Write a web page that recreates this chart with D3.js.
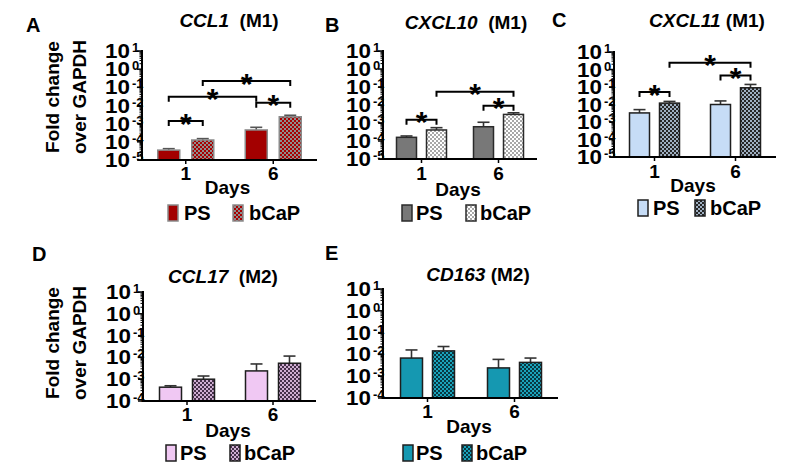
<!DOCTYPE html>
<html><head><meta charset="utf-8">
<script src="https://cdn.jsdelivr.net/npm/d3@7"></script>
<style>
body{margin:0;background:#fff}
text{font-family:"Liberation Sans",Arial,Helvetica,sans-serif;font-weight:bold;fill:#000}
</style>
</head><body>
<svg id="chart" width="800" height="474"></svg>
<script>
// ---------------- DATA ----------------
const days = ["1", "6"];
const groups = ["PS", "bCaP"];
const ticksM1 = [1e-5, 1e-4, 1e-3, 1e-2, 1e-1, 1, 10];
const tickExpM1 = ["-5", "-4", "-3", "-2", "-1", "0", "1"];
const ticksM2 = [1e-4, 1e-3, 1e-2, 1e-1, 1, 10];
const tickExpM2 = ["-4", "-3", "-2", "-1", "0", "1"];
const yTitle = ["Fold change", "over GAPDH"];
const xTitle = "Days";

// mean values per day (day 1, day 6) and upper end of error bar
const ccl1PS = [3.5e-5, 4.5e-4];      const ccl1PSErr = [4.2e-5, 6.3e-4];
const ccl1BCaP = [1.26e-4, 2.4e-3];   const ccl1BCaPErr = [1.5e-4, 2.9e-3];
const cxcl10PS = [1.6e-4, 6.2e-4];    const cxcl10PSErr = [1.9e-4, 1.1e-3];
const cxcl10BCaP = [4.1e-4, 3.0e-3];  const cxcl10BCaPErr = [5.5e-4, 3.7e-3];
const cxcl11PS = [3.3e-3, 1.0e-2];    const cxcl11PSErr = [5.1e-3, 1.6e-2];
const cxcl11BCaP = [1.2e-2, 0.09];    const cxcl11BCaPErr = [1.5e-2, 0.14];
const ccl17PS = [4.3e-4, 2.4e-3];     const ccl17PSErr = [5.0e-4, 5.0e-3];
const ccl17BCaP = [1.0e-3, 5.4e-3];   const ccl17BCaPErr = [1.4e-3, 1.15e-2];
const cd163PS = [6.8e-3, 2.4e-3];     const cd163PSErr = [1.6e-2, 5.9e-3];
const cd163BCaP = [1.45e-2, 4.3e-3];  const cd163BCaPErr = [2.3e-2, 6.8e-3];

// significance brackets: [day, group, day, group, bracket level]
const ccl1Sig = [["1","PS","1","bCaP",1.4e-3], ["1","PS","6","PS",3.0e-2], ["1","bCaP","6","bCaP",0.22], ["6","PS","6","bCaP",1.4e-2]];
const cxcl10Sig = [["1","PS","1","bCaP",1.5e-3], ["1","bCaP","6","bCaP",5.5e-2], ["6","PS","6","bCaP",9.1e-3]];
const cxcl11Sig = [["1","PS","1","bCaP",5.1e-2], ["1","bCaP","6","bCaP",2.4], ["6","PS","6","bCaP",0.46]];

const panels = [
  {letter:"A", gene:"CCL1", tag:"\u00a0\u00a0(M1)", ps:ccl1PS, psErr:ccl1PSErr, bc:ccl1BCaP, bcErr:ccl1BCaPErr, sig:ccl1Sig, ticks:ticksM1, exp:tickExpM1, yTitle:true},
  {letter:"B", gene:"CXCL10", tag:"\u00a0\u00a0(M1)", ps:cxcl10PS, psErr:cxcl10PSErr, bc:cxcl10BCaP, bcErr:cxcl10BCaPErr, sig:cxcl10Sig, ticks:ticksM1, exp:tickExpM1},
  {letter:"C", gene:"CXCL11", tag:"\u00a0(M1)", ps:cxcl11PS, psErr:cxcl11PSErr, bc:cxcl11BCaP, bcErr:cxcl11BCaPErr, sig:cxcl11Sig, ticks:ticksM1, exp:tickExpM1},
  {letter:"D", gene:"CCL17", tag:"\u00a0\u00a0(M2)", ps:ccl17PS, psErr:ccl17PSErr, bc:ccl17BCaP, bcErr:ccl17BCaPErr, sig:[], ticks:ticksM2, exp:tickExpM2, yTitle:true},
  {letter:"E", gene:"CD163", tag:"\u00a0(M2)", ps:cd163PS, psErr:cd163PSErr, bc:cd163BCaP, bcErr:cd163BCaPErr, sig:[], ticks:ticksM2, exp:tickExpM2}
];

// ---------------- STYLE / LAYOUT ----------------
const styles = {
  A:{ps:"#a30000", c1:"#a80000", c2:"#8e8e8e", stroke:"#8a8a8a", err:"#555"},
  B:{ps:"#787878", c1:"#ffffff", c2:"#a8a8a8", stroke:"#2a2a2a", err:"#333"},
  C:{ps:"#c6dcf6", c1:"#9fb0c2", c2:"#262626", stroke:"#1e1e1e", err:"#333"},
  D:{ps:"#f0c8f3", c1:"#cfaed2", c2:"#45304a", stroke:"#1e1e1e", err:"#333"},
  E:{ps:"#1598b1", c1:"#1aa3bb", c2:"#083842", stroke:"#1e1e1e", err:"#333"}
};
const layouts = {
  A:{ax:142, xr:[142,317], yr:[160,51], inner:34, bw:22, letterXY:[26,32], titleXY:[229,27], tickY:180, daysY:194, legY:220, leg:[168,184,233,249], yLabY:97},
  B:{ax:383, xr:[383,537], yr:[159,51], inner:30, bw:20, letterXY:[325,32], titleXY:[466,29], tickY:180, daysY:196, legY:220, leg:[402,416,466,480]},
  C:{ax:614, xr:[614,776], yr:[157,52], inner:30, bw:20, letterXY:[552,27], titleXY:[707,27], tickY:178, daysY:192, legY:215, leg:[638,653,695,710]},
  D:{ax:143, xr:[144,316], yr:[401,292], inner:33, bw:22, letterXY:[32,261], titleXY:[223,283], tickY:421, daysY:437, legY:460, leg:[166,180,230,244], yLabY:343},
  E:{ax:383, xr:[384,558], yr:[398,289], inner:32, bw:22, letterXY:[325,260], titleXY:[478,281], tickY:418, daysY:433, legY:460, leg:[403,416,462,476]}
};

const svg = d3.select("#chart");
const defs = svg.append("defs");

function drawPanel(P) {
  const L = layouts[P.letter], S = styles[P.letter];
  const g = svg.append("g");

  // checker pattern for bCaP
  const pid = "pat" + P.letter;
  const pat = defs.append("pattern").attr("id", pid).attr("patternUnits", "userSpaceOnUse")
    .attr("width", 4).attr("height", 4);
  pat.append("rect").attr("width", 4).attr("height", 4).attr("fill", S.c1);
  pat.append("rect").attr("width", 2).attr("height", 2).attr("fill", S.c2);
  pat.append("rect").attr("x", 2).attr("y", 2).attr("width", 2).attr("height", 2).attr("fill", S.c2);
  const fillOf = k => k === "PS" ? S.ps : `url(#${pid})`;

  const y = d3.scaleLog().domain([P.ticks[0], P.ticks[P.ticks.length - 1]]).range(L.yr);
  const x0 = d3.scaleBand().domain(days).range(L.xr).padding(0);
  const step = x0.bandwidth();
  const x1 = d3.scaleBand().domain(groups)
    .range([step / 2 - (L.inner + L.bw) / 2, step / 2 + (L.inner + L.bw) / 2])
    .paddingInner((L.inner - L.bw) / L.inner).paddingOuter(0);
  const base = L.yr[0];
  const series = {PS: P.ps, bCaP: P.bc}, errs = {PS: P.psErr, bCaP: P.bcErr};
  const data = days.flatMap((d, i) => groups.map(k => ({d, k, v: series[k][i], e: errs[k][i]})));
  const cx = (d, k) => x0(d) + x1(k) + x1.bandwidth() / 2;

  // error bars
  const eg = g.append("g").attr("stroke", S.err).attr("stroke-width", 1.6).attr("fill", "none");
  data.forEach(o => {
    eg.append("line").attr("x1", cx(o.d, o.k)).attr("x2", cx(o.d, o.k)).attr("y1", y(o.v)).attr("y2", y(o.e));
    eg.append("line").attr("x1", cx(o.d, o.k) - 6).attr("x2", cx(o.d, o.k) + 6).attr("y1", y(o.e)).attr("y2", y(o.e));
  });

  // bars
  g.append("g").selectAll("rect").data(data).join("rect")
    .attr("x", o => x0(o.d) + x1(o.k))
    .attr("y", o => y(o.v))
    .attr("width", x1.bandwidth())
    .attr("height", o => base - y(o.v))
    .attr("fill", o => fillOf(o.k))
    .attr("stroke", S.stroke).attr("stroke-width", 1.5);

  // y axis
  const axg = g.append("g").attr("stroke", "#000");
  axg.append("line").attr("x1", L.ax).attr("x2", L.ax).attr("y1", y(P.ticks[P.ticks.length - 1]) - 1).attr("y2", base + 1).attr("stroke-width", 2);
  P.ticks.forEach(t => {
    axg.append("line").attr("x1", L.ax - 5).attr("x2", L.ax).attr("y1", y(t)).attr("y2", y(t)).attr("stroke-width", 1.5);
  });
  P.ticks.slice(0, -1).forEach(t => {
    for (let m = 2; m <= 9; m++) {
      axg.append("line").attr("x1", L.ax - 2.5).attr("x2", L.ax).attr("y1", y(t * m)).attr("y2", y(t * m)).attr("stroke-width", 1);
    }
  });
  // x axis
  axg.append("line").attr("x1", L.ax - 1).attr("x2", L.xr[1]).attr("y1", base).attr("y2", base).attr("stroke-width", 2);
  days.forEach(d => {
    axg.append("line").attr("x1", x0(d) + step / 2).attr("x2", x0(d) + step / 2).attr("y1", base).attr("y2", base + 4).attr("stroke-width", 1.5);
  });

  // y tick labels
  P.ticks.forEach((t, i) => {
    g.append("text").attr("transform", `translate(${L.ax - 12},${y(t) + 7}) scale(1.12,1)`)
      .attr("text-anchor", "end").attr("font-size", 20).text("10");
    g.append("text").attr("x", L.ax - 10).attr("y", y(t) + 1).attr("font-size", 13).text(P.exp[i]);
  });
  // x tick labels
  days.forEach(d => {
    g.append("text").attr("x", x0(d) + step / 2).attr("y", L.tickY).attr("text-anchor", "middle").attr("font-size", 19).text(d);
  });
  g.append("text").attr("x", (L.xr[0] + L.xr[1]) / 2 - 2).attr("y", L.daysY).attr("text-anchor", "middle").attr("font-size", 19).text(xTitle);

  // significance
  const sg = g.append("g");
  P.sig.forEach(s => {
    const xa = cx(s[0], s[1]), xb = cx(s[2], s[3]), yy = y(s[4]);
    sg.append("path").attr("d", `M${xa},${yy + 5}V${yy}H${xb}V${yy + 5}`)
      .attr("fill", "none").attr("stroke", "#000").attr("stroke-width", 2);
    sg.append("text").attr("x", (xa + xb) / 2).attr("y", yy + 12.5).attr("text-anchor", "middle")
      .attr("font-size", 30).text("*");
  });

  // title & letter
  const tt = g.append("text").attr("x", L.titleXY[0]).attr("y", L.titleXY[1]).attr("text-anchor", "middle").attr("font-size", 19);
  tt.append("tspan").attr("font-style", "italic").text(P.gene);
  tt.append("tspan").text(P.tag);
  g.append("text").attr("x", L.letterXY[0]).attr("y", L.letterXY[1]).attr("font-size", 20).text(P.letter);

  // y title
  if (P.yTitle) {
    g.append("text").attr("transform", `translate(59,${L.yLabY}) rotate(-90)`).attr("text-anchor", "middle").attr("font-size", 19).text(yTitle[0]);
    g.append("text").attr("transform", `translate(86,${L.yLabY}) rotate(-90)`).attr("text-anchor", "middle").attr("font-size", 19).text(yTitle[1]);
  }

  // legend
  groups.forEach((k, i) => {
    const sx = L.leg[i * 2], tx = L.leg[i * 2 + 1];
    g.append("rect").attr("x", sx).attr("y", L.legY - 15).attr("width", 10).attr("height", 16)
      .attr("fill", fillOf(k)).attr("stroke", S.stroke).attr("stroke-width", 1.5);
    g.append("text").attr("x", tx).attr("y", L.legY).attr("font-size", 20).text(k);
  });
}

panels.forEach(drawPanel);
</script>
</body></html>
